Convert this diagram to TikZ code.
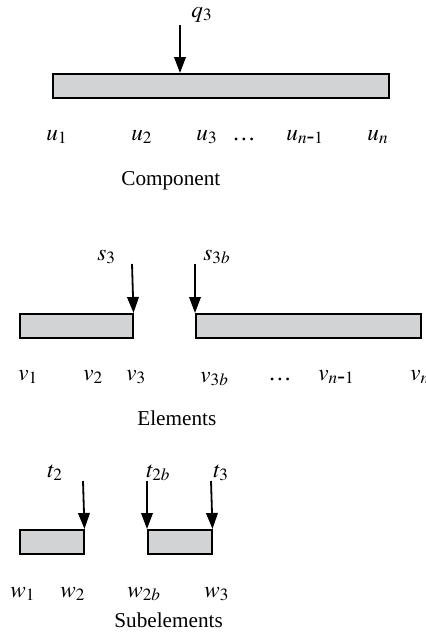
\documentclass[tikz,border=0pt]{standalone}
\usepackage{mathptmx}
\usepackage{fontspec}
\setmainfont{Liberation Serif}
\usetikzlibrary{arrows.meta}
\definecolor{barfill}{RGB}{210,211,213}
\begin{document}
\begin{tikzpicture}[x=0.5pt,y=-0.5pt,
  bar/.style={draw=black,line width=0.75pt,fill=barfill,rectangle,inner sep=0pt,anchor=north west,minimum height=12pt},
  load/.style={line width=0.9pt,-{Triangle[length=8pt,width=5.8pt]}},
  lab/.style={anchor=base west,inner sep=0pt,font=\fontsize{11.6}{13}\selectfont},
  ttl/.style={anchor=base west,inner sep=0pt,font=\fontsize{10.6}{12}\selectfont}]
\useasboundingbox (0,0) rectangle (425,632);
% Component
\node[bar,minimum width=168pt] (comp) at (52,73) {};
\coordinate (cq) at (180,25);
\coordinate (cqe) at (180,73);
\draw[load] (cq) -- (cqe);
\node[lab] (q3) at (191,17) {$q_3$};
\node[lab] (u1) at (46,140) {$u_1$};
\node[lab] (u2) at (131,140) {$u_2$};
\node[lab] (u3) at (196,140) {$u_3$};
\node[lab] (ud) at (232,140) {\dots};
\node[lab] (un1) at (286,140) {$u_{n\mbox{-}1}$};
\node[lab] (un) at (367,140) {$u_n$};
\node[ttl] (tcomp) at (121,185) {Component};
% Elements
\node[bar,minimum width=56.5pt] (e1) at (19,313) {};
\node[bar,minimum width=112.5pt] (e2) at (195,313) {};
\coordinate (s3s) at (132,264);
\coordinate (s3bs) at (195,264);
\draw[load] (s3s) -- (e1.north east);
\draw[load] (s3bs) -- (e2.north west);
\node[lab] (s3) at (97,260) {$s_3$};
\node[lab] (s3b) at (203,260) {$s_{3b}$};
\node[lab] (v1) at (18,380) {$v_1$};
\node[lab] (v2) at (83,380) {$v_2$};
\node[lab] (v3) at (126,380) {$v_3$};
\node[lab] (v3b) at (200,382) {$v_{3b}$};
\node[lab] (vd) at (268,380) {\dots};
\node[lab] (vn1) at (318,380) {$v_{n\mbox{-}1}$};
\node[lab] (vn) at (410,380) {$v_n$};
\node[ttl] (telem) at (137,425) {Elements};
% Subelements
\node[bar,minimum width=32pt] (w1b) at (19,529) {};
\node[bar,minimum width=32pt] (w2bar) at (147,529) {};
\coordinate (t2s) at (83,481);
\coordinate (t2bs) at (147,481);
\coordinate (t3s) at (211,481);
\draw[load] (t2s) -- (w1b.north east);
\draw[load] (t2bs) -- (w2bar.north west);
\draw[load] (t3s) -- (w2bar.north east);
\node[lab] (t2) at (47,477) {$t_2$};
\node[lab] (t2b) at (146,477) {$t_{2b}$};
\node[lab] (t3) at (213,477) {$t_3$};
\node[lab] (w1) at (10,597) {$w_1$};
\node[lab] (w2) at (60,597) {$w_2$};
\node[lab] (w2b) at (127,597) {$w_{2b}$};
\node[lab] (w3) at (204,597) {$w_3$};
\node[ttl] (tsub) at (114,627) {Subelements};
\end{tikzpicture}
\end{document}
